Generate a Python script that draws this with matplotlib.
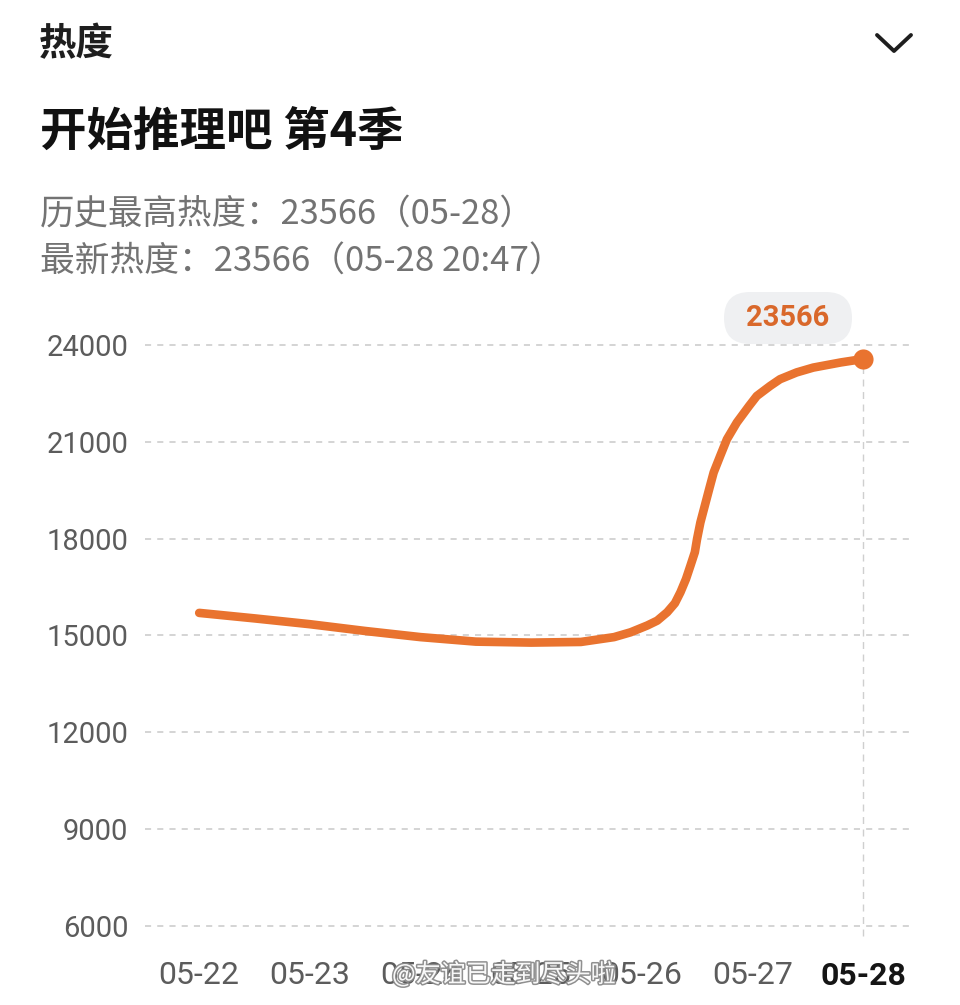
"""Heat trend card: 开始推理吧 第4季 -- daily heat curve, phone-screenshot style."""

import matplotlib

matplotlib.use("Agg")
import matplotlib.patches as mpatches
import matplotlib.patheffects as pe
import matplotlib.pyplot as plt
from matplotlib.lines import Line2D
from matplotlib.transforms import IdentityTransform

plt.rcParams["font.family"] = ["Noto Sans CJK SC", "DejaVu Sans"]

# data (x = days since 05-22)
day_labels = ["05-22", "05-23", "05-24", "05-25", "05-26", "05-27", "05-28"]
day_pos = [0, 0.5, 1.0, 1.5, 2.0, 2.5, 3.0, 3.45, 3.75, 3.9, 4.05, 4.14,
           4.23, 4.3, 4.35, 4.4, 4.44, 4.48, 4.5, 4.53, 4.57, 4.61, 4.65,
           4.71, 4.77, 4.86, 4.97, 5.04, 5.16, 5.25, 5.4, 5.55, 5.8, 6.0]
heat = [15700, 15530, 15350, 15140, 14950, 14810, 14780, 14800, 14950,
        15100, 15310, 15460, 15720, 16000, 16340, 16750, 17160, 17580,
        17990, 18500, 19020, 19540, 20050, 20570, 21080, 21600, 22110,
        22420, 22730, 22940, 23150, 23300, 23460, 23566]
y_ticks = [6000, 9000, 12000, 15000, 18000, 21000, 24000]
peak_text = "历史最高热度：23566（05-28）"
latest_text = "最新热度：23566（05-28 20:47）"

W, H = 960, 1005
ORANGE = "#E9732F"
GREY = "#5C5C5C"


def fx(px):
    return px / W


def fy(py):
    return 1 - py / H


def main():
    fig = plt.figure(figsize=(W / 100, H / 100), dpi=100)
    fig.patch.set_facecolor("white")

    # header
    fig.text(fx(39), fy(44), "热度", fontsize=27, fontweight="bold",
             color="#1E1E1E", va="center", ha="left")
    fig.add_artist(Line2D([fx(877), fx(894), fx(911)], [fy(35), fy(51), fy(35)],
                          transform=fig.transFigure, color="#1E1E1E", lw=2.8,
                          solid_capstyle="round", solid_joinstyle="round"))
    fig.text(fx(40), fy(132), "开始推理吧 第4季", fontsize=33.5, fontweight="bold",
             color="#111111", va="center", ha="left")
    fig.text(fx(40), fy(214), peak_text, fontsize=24.8, color="#737373",
             va="center", ha="left")
    fig.text(fx(40), fy(262), latest_text, fontsize=25, color="#737373",
             va="center", ha="left")

    # chart area
    ax = fig.add_axes([fx(145), fy(940), fx(770), 640 / H])
    ax.set_xlim(-0.49, 6.47)
    ax.set_ylim(5566, 25394)
    for s in ax.spines.values():
        s.set_visible(False)
    ax.set_yticks(y_ticks)
    ax.set_yticklabels([str(v) for v in y_ticks])
    ax.set_xticks(range(len(day_labels)))
    ax.set_xticklabels(day_labels)
    ax.tick_params(length=0)
    ax.tick_params(axis="y", pad=12, labelsize=21, labelcolor=GREY)
    ax.tick_params(axis="x", pad=15, labelsize=23, labelcolor=GREY)
    for lab in ax.get_yticklabels() + ax.get_xticklabels():
        lab.set_family(["Roboto", "DejaVu Sans"])
    last = ax.get_xticklabels()[-1]
    last.set_color("#151515")
    last.set_fontweight("bold")

    ax.grid(axis="y", color="#C9C9C9", lw=1.1, linestyle=(0, (4, 4)))
    ax.set_axisbelow(True)

    ax.plot([day_pos[-1], day_pos[-1]], [5700, heat[-1]], color="#CFCFCF",
            lw=1.0, linestyle=(0, (5, 4)), zorder=1)
    ax.plot(day_pos, heat, color=ORANGE, lw=6.2, solid_capstyle="round",
            solid_joinstyle="round", zorder=3)
    ax.plot(day_pos[-1], heat[-1], "o", ms=14.5, color=ORANGE, mec="none",
            zorder=4, clip_on=False)

    # value badge above the last point
    fig.canvas.draw()
    px, py = ax.transData.transform((day_pos[-1], heat[-1]))
    cx, cy = px - 75, py + 41
    badge = mpatches.FancyBboxPatch(
        (cx - 64, cy - 26), 128, 52,
        boxstyle="round,pad=0,rounding_size=26",
        transform=IdentityTransform(), facecolor="#EFF0F2", edgecolor="none",
        zorder=5,
    )
    fig.add_artist(badge)
    fig.text(cx / W, cy / H, str(heat[-1]), fontsize=21, fontweight="bold",
             color="#D9682B", ha="center", va="center",
             family=["Roboto", "DejaVu Sans"], zorder=6)

    # watermark
    fig.text(fx(392), fy(975), "@友谊已走到尽头啦", fontsize=18, color="white",
             ha="left", va="center", alpha=0.95, zorder=10,
             path_effects=[pe.withStroke(linewidth=2.2, foreground="#8A8A8A")])

    fig.savefig("out.png", dpi=100, facecolor="white")


if __name__ == "__main__":
    main()
